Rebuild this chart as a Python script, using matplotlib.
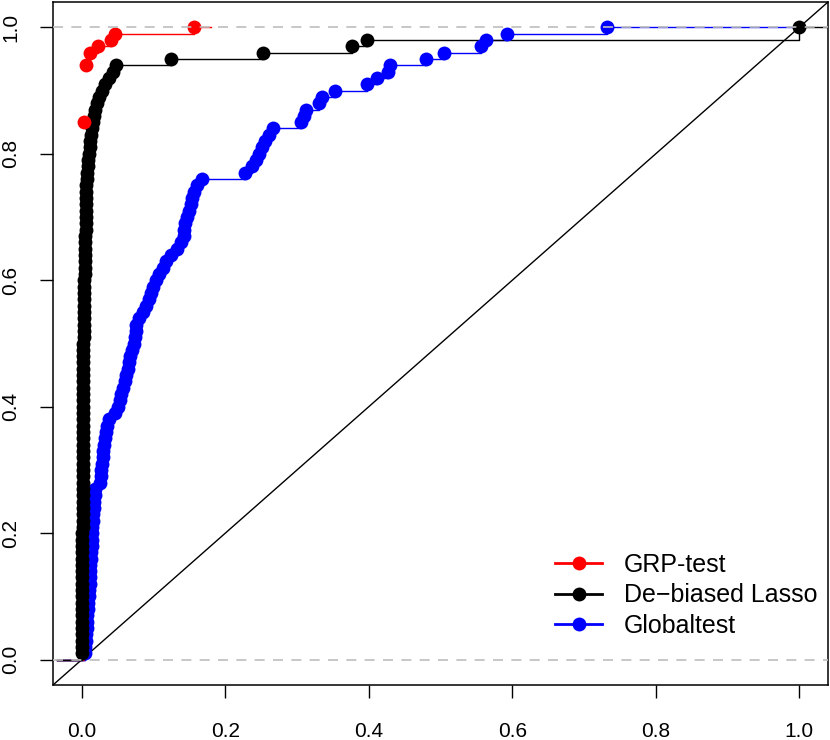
import matplotlib
matplotlib.use("Agg")
import matplotlib.pyplot as plt
from matplotlib.lines import Line2D

plt.rcParams['font.family'] = ['Liberation Sans', 'DejaVu Sans']

# ---------------- data (FPR, TPR) ----------------
grp_fpr = [0.003, 0.0065, 0.011, 0.023, 0.041, 0.047, 0.156]
grp_tpr = [0.85, 0.94, 0.96, 0.97, 0.98, 0.99, 1.00]
grp_line_start = -0.035
grp_line_end = 0.18
grp_line_first = 1          # the connecting line is only visible from the 2nd point on

lasso_fpr = [0.001, 0.001, 0.001, 0.001, 0.001, 0.001, 0.001, 0.001, 0.001, 0.001,
             0.001, 0.001, 0.001, 0.001, 0.001, 0.001, 0.001, 0.001, 0.001, 0.001,
             0.0012, 0.0012, 0.0012, 0.0013, 0.0013, 0.0013, 0.0014, 0.0014, 0.0014, 0.0015,
             0.0015, 0.0015, 0.0016, 0.0016, 0.0017, 0.0017, 0.0018, 0.0018, 0.0019, 0.0019,
             0.002, 0.002, 0.002, 0.0021, 0.0021, 0.0022, 0.0022, 0.0023, 0.0024, 0.0025,
             0.0026, 0.0027, 0.0028, 0.0029, 0.003, 0.003, 0.0032, 0.0034, 0.0036, 0.0038,
             0.004, 0.0042, 0.0044, 0.0046, 0.0048, 0.005, 0.0052, 0.0054, 0.0055, 0.0055,
             0.0056, 0.0057, 0.0058, 0.006, 0.0065, 0.007, 0.0078, 0.0085, 0.0092, 0.010,
             0.011, 0.012, 0.013, 0.0145, 0.016, 0.017, 0.018, 0.021, 0.024, 0.028,
             0.033, 0.038, 0.043, 0.048,
             0.125, 0.252, 0.376, 0.398, 1.000]
lasso_tpr = [0.01, 0.02, 0.03, 0.04, 0.05, 0.06, 0.07, 0.08, 0.09, 0.10,
             0.11, 0.12, 0.13, 0.14, 0.15, 0.16, 0.17, 0.18, 0.19, 0.20,
             0.21, 0.22, 0.23, 0.24, 0.25, 0.26, 0.27, 0.28, 0.29, 0.30,
             0.31, 0.32, 0.33, 0.34, 0.35, 0.36, 0.37, 0.38, 0.39, 0.40,
             0.41, 0.42, 0.43, 0.44, 0.45, 0.46, 0.47, 0.48, 0.49, 0.50,
             0.51, 0.52, 0.53, 0.54, 0.55, 0.56, 0.57, 0.58, 0.59, 0.60,
             0.61, 0.62, 0.63, 0.64, 0.65, 0.66, 0.67, 0.68, 0.69, 0.70,
             0.71, 0.72, 0.73, 0.74, 0.75, 0.76, 0.77, 0.78, 0.79, 0.80,
             0.81, 0.82, 0.83, 0.84, 0.85, 0.86, 0.87, 0.88, 0.89, 0.90,
             0.91, 0.92, 0.93, 0.94,
             0.95, 0.96, 0.97, 0.98, 1.00]
lasso_line_start = -0.035
lasso_line_end = 1.05

glob_fpr = [0.004, 0.005, 0.006, 0.006, 0.007, 0.008, 0.008, 0.009, 0.009, 0.010,
            0.010, 0.011, 0.011, 0.012, 0.012, 0.013, 0.013, 0.014, 0.014, 0.015,
            0.015, 0.016, 0.016, 0.017, 0.017, 0.018, 0.018, 0.026, 0.027, 0.027,
            0.028, 0.029, 0.030, 0.031, 0.033, 0.034, 0.035, 0.038, 0.047, 0.051,
            0.053, 0.055, 0.058, 0.061, 0.062, 0.064, 0.066, 0.067, 0.070, 0.073,
            0.074, 0.075, 0.076, 0.080, 0.085, 0.090, 0.094, 0.097, 0.099, 0.103,
            0.108, 0.113, 0.118, 0.124, 0.133, 0.138, 0.142, 0.143, 0.144, 0.147,
            0.150, 0.152, 0.154, 0.157, 0.161, 0.167, 0.227, 0.238, 0.243, 0.247,
            0.251, 0.256, 0.261, 0.267, 0.306, 0.310, 0.313, 0.331, 0.335, 0.353,
            0.397, 0.411, 0.427, 0.430, 0.480, 0.505, 0.557, 0.564, 0.592, 0.732]
glob_tpr = [0.01, 0.02, 0.03, 0.04, 0.05, 0.06, 0.07, 0.08, 0.09, 0.10,
            0.11, 0.12, 0.13, 0.14, 0.15, 0.16, 0.17, 0.18, 0.19, 0.20,
            0.21, 0.22, 0.23, 0.24, 0.25, 0.26, 0.27, 0.28, 0.29, 0.30,
            0.31, 0.32, 0.33, 0.34, 0.35, 0.36, 0.37, 0.38, 0.39, 0.40,
            0.41, 0.42, 0.43, 0.44, 0.45, 0.46, 0.47, 0.48, 0.49, 0.50,
            0.51, 0.52, 0.53, 0.54, 0.55, 0.56, 0.57, 0.58, 0.59, 0.60,
            0.61, 0.62, 0.63, 0.64, 0.65, 0.66, 0.67, 0.68, 0.69, 0.70,
            0.71, 0.72, 0.73, 0.74, 0.75, 0.76, 0.77, 0.78, 0.79, 0.80,
            0.81, 0.82, 0.83, 0.84, 0.85, 0.86, 0.87, 0.88, 0.89, 0.90,
            0.91, 0.92, 0.93, 0.94, 0.95, 0.96, 0.97, 0.98, 0.99, 1.00]
glob_line_start = -0.035
glob_line_end = 1.0

series_names = ["GRP-test", "De\u2212biased Lasso", "Globaltest"]
series_colors = ["#FF0000", "#000000", "#0000FF"]
tick_values = [0.0, 0.2, 0.4, 0.6, 0.8, 1.0]
tick_labels = ["0.0", "0.2", "0.4", "0.6", "0.8", "1.0"]
ref_levels = [0.0, 1.0]

# ---------------- figure ----------------
W, H = 830, 740
fig = plt.figure(figsize=(W / 100, H / 100), dpi=100)
ax = fig.add_axes([53 / W, 1 - 685 / H, 775 / W, 683 / H])

ms = 10.0
lw = 1.0

def draw(fx, ty, start, end, color, zl, zp, first=0):
    # short stub along y = 0 left of the origin
    ax.plot([start, fx[0]], [0.0, 0.0], color=color, lw=lw, zorder=zl)
    lx = fx[first:] + [end]
    ly = ty[first:] + [ty[-1]]
    if first == 0:
        lx = [start] + lx
        ly = [0.0] + ly
    ax.step(lx, ly, where='post', color=color, lw=lw, zorder=zl)
    ax.plot(fx, ty, 'o', color=color, ms=ms, mec=color, mew=0, zorder=zp)

# diagonal
ax.axline((0, 0), slope=1, color='black', lw=1.0, zorder=1)

draw(glob_fpr, glob_tpr, glob_line_start, glob_line_end, series_colors[2], 2.0, 3.0)
draw(grp_fpr, grp_tpr, grp_line_start, grp_line_end, series_colors[0], 2.2, 5.0, grp_line_first)
draw(lasso_fpr, lasso_tpr, lasso_line_start, lasso_line_end, series_colors[1], 2.4, 4.0)

for lev in ref_levels:
    ax.axhline(lev, color='#BEBEBE', lw=1.2, dashes=(6, 5), zorder=6)

ax.set_xlim(-0.04, 1.04)
ax.set_ylim(-0.04, 1.04)
ax.set_xticks(tick_values)
ax.set_xticklabels(tick_labels)
ax.set_yticks(tick_values)
ax.set_yticklabels(tick_labels, rotation=90, va='center')
ax.tick_params(axis='both', direction='out', length=9.5, width=1.0, labelsize=15)
ax.tick_params(axis='x', pad=17)
ax.tick_params(axis='y', pad=14)
for s in ax.spines.values():
    s.set_linewidth(1.1)

handles = [Line2D([0], [0], color=c, lw=2.0, marker='o', ms=ms, mew=0) for c in series_colors]
ax.legend(handles, series_names, loc='lower left', bbox_to_anchor=(0.648, 0.069),
          frameon=False, fontsize=18, handlelength=1.88, handletextpad=0.88,
          labelspacing=0.26, borderpad=0, borderaxespad=0)

fig.savefig("out.png", dpi=100)
